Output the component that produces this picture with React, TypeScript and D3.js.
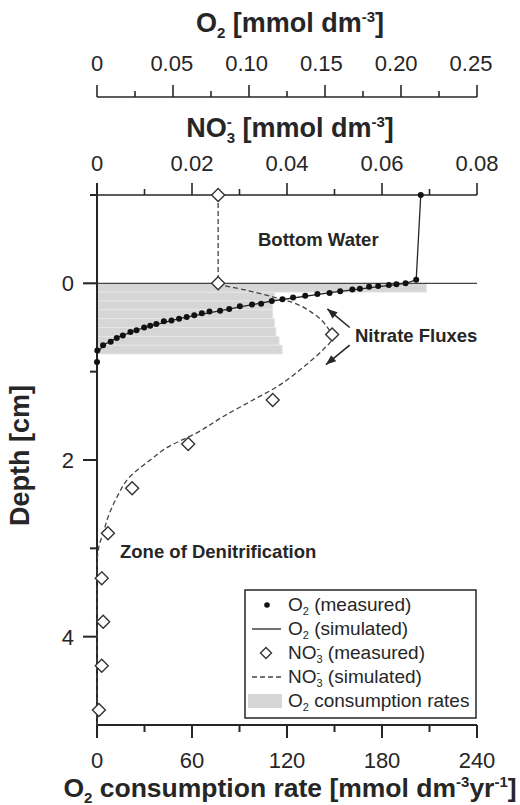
import * as d3 from "d3";
import React from "react";

// O2 microprofile (measured dots)
const o2Depth = [-1, -0.04, 0, 0.01, 0.02, 0.03, 0.04, 0.06, 0.07, 0.09, 0.11, 0.12, 0.14, 0.16, 0.18, 0.2, 0.23, 0.24, 0.26, 0.29, 0.31, 0.32, 0.34, 0.36, 0.38, 0.4, 0.42, 0.43, 0.46, 0.48, 0.5, 0.53, 0.55, 0.59, 0.62, 0.66, 0.7, 0.76, 0.89];
const o2Measured = [0.213, 0.21, 0.203, 0.197, 0.192, 0.185, 0.179, 0.173, 0.168, 0.16, 0.153, 0.145, 0.137, 0.129, 0.122, 0.115, 0.108, 0.102, 0.094, 0.087, 0.081, 0.074, 0.069, 0.064, 0.059, 0.054, 0.049, 0.044, 0.039, 0.035, 0.031, 0.026, 0.022, 0.017, 0.013, 0.009, 0.004, 0.0002, 0];

// O2 model
const o2SimDepth = [-1, -0.04, 0, 0.1, 0.2, 0.3, 0.4, 0.5, 0.6, 0.7, 0.8, 5];
const o2Simulated = [0.213, 0.21, 0.203, 0.156, 0.115, 0.084, 0.054, 0.031, 0.015, 0.004, 0, 0];

// NO3- measured (diamonds)
const no3Depth = [-1, 0, 0.58, 1.32, 1.82, 2.32, 2.83, 3.34, 3.83, 4.33, 4.83];
const no3Measured = [0.0255, 0.0255, 0.0495, 0.037, 0.0192, 0.0074, 0.0023, 0.001, 0.0013, 0.001, 0.0004];

// NO3- model
const no3SimDepth = [-1, 0, 0.075, 0.155, 0.22, 0.34, 0.49, 0.62, 0.75, 0.95, 1.17, 1.34, 1.51, 1.69, 1.86, 2.0, 2.19, 2.42, 2.65, 2.83, 2.98, 3.21, 5];
const no3Simulated = [0.0255, 0.0255, 0.0312, 0.0371, 0.0413, 0.0455, 0.0484, 0.0495, 0.0476, 0.0434, 0.0379, 0.0322, 0.0265, 0.0211, 0.0147, 0.0112, 0.0069, 0.0042, 0.0023, 0.0013, 0.0004, 0, 0];

// O2 consumption rates, 0.1 cm layers
const rateTop = [0, 0.1, 0.2, 0.3, 0.4, 0.5, 0.6, 0.7];
const rateValues = [208, 112, 111, 111, 112, 113, 115, 117];
const layer = 0.1;

const o2Ticks = [0, 0.05, 0.1, 0.15, 0.2, 0.25];
const o2Labels = ["0", "0.05", "0.10", "0.15", "0.20", "0.25"];
const no3Ticks = [0, 0.02, 0.04, 0.06, 0.08];
const no3Labels = ["0", "0.02", "0.04", "0.06", "0.08"];
const rateTicks = [0, 60, 120, 180, 240];
const depthTicks = [0, 2, 4];
const depthMinor = [-1, 1, 3];

const font = "'Liberation Sans', Arial, Helvetica, sans-serif";
const ink = "#262626";

const App = () => {
  const width = 520;
  const height = 805;
  const left = 97;
  const right = 477;
  const top = 195;
  const bottom = 725;
  const o2AxisY = 97;

  const y = d3.scaleLinear().domain([-1, 5]).range([top, bottom]);
  const xO2 = d3.scaleLinear().domain([0, 0.25]).range([left, right]);
  const xNO3 = d3.scaleLinear().domain([0, 0.08]).range([left, right]);
  const xRate = d3.scaleLinear().domain([0, 240]).range([left, right]);

  const o2Line = d3.line<number>()
    .x((d) => xO2(d))
    .y((d, i) => y(o2SimDepth[i]));
  const no3Line = d3.line<number>()
    .x((d) => xNO3(d))
    .y((d, i) => y(no3SimDepth[i]))
    .curve(d3.curveMonotoneY);

  const diamond = (cx: number, cy: number, r: number) =>
    `M${cx},${cy - r}L${cx + r},${cy}L${cx},${cy + r}L${cx - r},${cy}Z`;

  const minorO2 = d3.range(0.025, 0.25, 0.05);
  const minorNO3 = d3.range(0.01, 0.08, 0.02);
  const minorRate = d3.range(30, 240, 60);

  const legendX = 245;
  const legendY = 590;
  const rowH = 24;

  const arrowHead = (x1: number, y1: number, x2: number, y2: number) => {
    const a = Math.atan2(y2 - y1, x2 - x1);
    const l = 10, w = 4;
    const bx = x2 - l * Math.cos(a), by = y2 - l * Math.sin(a);
    return `M${x2},${y2}L${bx + w * Math.sin(a)},${by - w * Math.cos(a)}L${bx - w * Math.sin(a)},${by + w * Math.cos(a)}Z`;
  };

  // arrows in data units (NO3, depth)
  const upArrow = [xNO3(0.0532), y(0.5), xNO3(0.0485), y(0.29)];
  const downArrow = [xNO3(0.0532), y(0.7), xNO3(0.0482), y(0.92)];

  return (
    <svg width={width} height={height} style={{ position: "absolute", left: 0, top: 0, background: "#fff" }}
      fontFamily={font}>
      {/* consumption rate bars */}
      <g>
        {rateTop.map((d, i) => (
          <rect key={i} x={xRate(0)} y={y(d)} width={xRate(rateValues[i]) - xRate(0)}
            height={y(d + layer) - y(d)} fill="#d6d6d6" stroke="#e8e8e8" strokeWidth={0.8} />
        ))}
      </g>

      {/* top O2 axis */}
      <g stroke={ink} strokeWidth={1.6}>
        <line x1={left} x2={right} y1={o2AxisY} y2={o2AxisY} />
        {o2Ticks.map((t) => <line key={t} x1={xO2(t)} x2={xO2(t)} y1={o2AxisY} y2={o2AxisY - 12} />)}
        {minorO2.map((t) => <line key={t} x1={xO2(t)} x2={xO2(t)} y1={o2AxisY} y2={o2AxisY - 6} />)}
      </g>
      <g fill={ink} fontSize={22} textAnchor="middle">
        {o2Ticks.map((t, i) => <text key={t} x={xO2(t) - i * 1.2} y={71}>{o2Labels[i]}</text>)}
      </g>
      <text x={290} y={32} textAnchor="middle" fontSize={27} fontWeight="bold" fill={ink}>
        O<tspan fontSize={15} dy={6}>2</tspan><tspan dy={-6}> [mmol dm</tspan><tspan fontSize={15} dy={-10}>-3</tspan><tspan dy={10}>]</tspan>
      </text>

      {/* NO3 axis = top frame */}
      <g stroke={ink} strokeWidth={1.6}>
        <line x1={left} x2={right} y1={top} y2={top} />
        {no3Ticks.map((t) => <line key={t} x1={xNO3(t)} x2={xNO3(t)} y1={top} y2={top - 12} />)}
        {minorNO3.map((t) => <line key={t} x1={xNO3(t)} x2={xNO3(t)} y1={top} y2={top - 6} />)}
      </g>
      <g fill={ink} fontSize={22} textAnchor="middle">
        {no3Ticks.map((t, i) => <text key={t} x={xNO3(t)} y={171}>{no3Labels[i]}</text>)}
      </g>
      <text x={290} y={137} textAnchor="middle" fontSize={27} fontWeight="bold" fill={ink}>
        NO<tspan fontSize={15} dy={6}>3</tspan><tspan fontSize={15} dx={-8.3} dy={-16}>-</tspan><tspan dx={3.3} dy={10}> [mmol dm</tspan><tspan fontSize={15} dy={-10}>-3</tspan><tspan dy={10}>]</tspan>
      </text>

      {/* sediment-water interface */}
      <line x1={left - 14} x2={right} y1={y(0)} y2={y(0)} stroke="#444" strokeWidth={1.3} />

      {/* left depth axis */}
      <g stroke={ink} strokeWidth={2}>
        <line x1={left} x2={left} y1={top - 12} y2={bottom + 13} />
        {depthTicks.map((t) => <line key={t} x1={left - 14} x2={left} y1={y(t)} y2={y(t)} />)}
        {depthMinor.map((t) => <line key={t} x1={left - 7} x2={left} y1={y(t)} y2={y(t)} />)}
      </g>
      <g fill={ink} fontSize={22} textAnchor="end">
        {depthTicks.map((t) => <text key={t} x={74} y={y(t)} dy="0.36em">{t}</text>)}
      </g>
      <text transform={`translate(29,${y(1.95)}) rotate(-90)`} textAnchor="middle" fontSize={27} fontWeight="bold" fill={ink}>
        Depth [cm]
      </text>

      {/* bottom rate axis */}
      <g stroke={ink} strokeWidth={2}>
        <line x1={left} x2={right} y1={bottom} y2={bottom} />
        {rateTicks.map((t) => <line key={t} x1={xRate(t)} x2={xRate(t)} y1={bottom} y2={bottom + 13} />)}
        {minorRate.map((t) => <line key={t} x1={xRate(t)} x2={xRate(t)} y1={bottom} y2={bottom + 7} />)}
      </g>
      <g fill={ink} fontSize={22} textAnchor="middle">
        {rateTicks.map((t) => <text key={t} x={xRate(t)} y={768}>{t}</text>)}
      </g>
      <text x={290} y={797} textAnchor="middle" fontSize={26.5} fontWeight="bold" fill={ink}>
        O<tspan fontSize={15} dy={6}>2</tspan><tspan dy={-6}> consumption rate [mmol dm</tspan><tspan fontSize={15} dy={-10}>-3</tspan><tspan dy={10}>yr</tspan><tspan fontSize={15} dy={-10}>-1</tspan><tspan dy={10}>]</tspan>
      </text>

      {/* simulated profiles */}
      <path d={o2Line(o2Simulated) || ""} fill="none" stroke={ink} strokeWidth={1.3} />
      <path d={no3Line(no3Simulated) || ""} fill="none" stroke="#444" strokeWidth={1.3} strokeDasharray="5,3" />

      {/* measured O2 */}
      <g fill="#111">
        {o2Measured.map((d, i) => <circle key={i} cx={xO2(d)} cy={y(o2Depth[i])} r={3} />)}
      </g>

      {/* measured NO3 */}
      <g fill="#fff" stroke="#333" strokeWidth={1.4}>
        {no3Measured.map((d, i) => <path key={i} d={diamond(xNO3(d), y(no3Depth[i]), 6.5)} />)}
      </g>

      {/* annotations */}
      <g fontSize={18.5} fontWeight="bold" fill={ink}>
        <text x={258} y={246}>Bottom Water</text>
        <text x={355} y={342}>Nitrate Fluxes</text>
        <text x={120} y={558}>Zone of Denitrification</text>
      </g>
      <g stroke={ink} strokeWidth={1.6}>
        <line x1={upArrow[0]} y1={upArrow[1]} x2={upArrow[2]} y2={upArrow[3]} />
        <line x1={downArrow[0]} y1={downArrow[1]} x2={downArrow[2]} y2={downArrow[3]} />
      </g>
      <g fill={ink}>
        <path d={arrowHead(upArrow[0], upArrow[1], upArrow[2], upArrow[3])} />
        <path d={arrowHead(downArrow[0], downArrow[1], downArrow[2], downArrow[3])} />
      </g>

      {/* legend */}
      <rect x={legendX} y={legendY} width={231} height={128} fill="#fff" stroke={ink} strokeWidth={1.5} />
      <g fontSize={19} fill={ink}>
        <circle cx={267} cy={legendY + 15} r={2.8} fill="#111" />
        <line x1={252} x2={281} y1={legendY + 15 + rowH} y2={legendY + 15 + rowH} stroke={ink} strokeWidth={1.3} />
        <path d={diamond(266, legendY + 15 + rowH * 2, 5.5)} fill="#fff" stroke="#333" strokeWidth={1.4} />
        <line x1={252} x2={281} y1={legendY + 15 + rowH * 3} y2={legendY + 15 + rowH * 3} stroke="#444" strokeWidth={1.3} strokeDasharray="5,3" />
        <rect x={248} y={legendY + 15 + rowH * 4 - 7} width={34} height={14} fill="#d6d6d6" />
        <text x={288} y={legendY + 21}>O<tspan fontSize={11} dy={4}>2</tspan><tspan dy={-4}> (measured)</tspan></text>
        <text x={288} y={legendY + 21 + rowH}>O<tspan fontSize={11} dy={4}>2</tspan><tspan dy={-4}> (simulated)</tspan></text>
        <text x={288} y={legendY + 21 + rowH * 2}>NO<tspan fontSize={11} dy={4}>3</tspan><tspan fontSize={11} dx={-6.1} dy={-11}>-</tspan><tspan dx={2.4} dy={7}> (measured)</tspan></text>
        <text x={288} y={legendY + 21 + rowH * 3}>NO<tspan fontSize={11} dy={4}>3</tspan><tspan fontSize={11} dx={-6.1} dy={-11}>-</tspan><tspan dx={2.4} dy={7}> (simulated)</tspan></text>
        <text x={288} y={legendY + 21 + rowH * 4}>O<tspan fontSize={11} dy={4}>2</tspan><tspan dy={-4}> consumption rates</tspan></text>
      </g>
    </svg>
  );
};

export default App;
